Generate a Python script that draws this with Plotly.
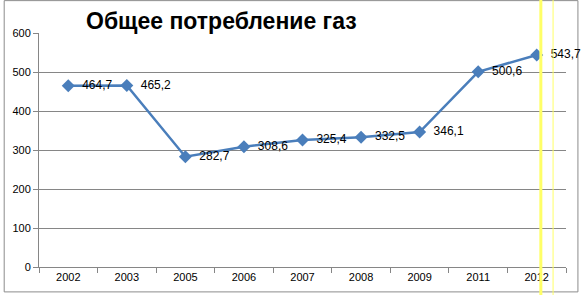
import plotly.graph_objects as go

years = ["2002", "2003", "2005", "2006", "2007", "2008", "2009", "2011", "2012"]
values = [464.7, 465.2, 282.7, 308.6, 325.4, 332.5, 346.1, 500.6, 543.7]
labels = ["464,7", "465,2", "282,7", "308,6", "325,4", "332,5", "346,1", "500,6", "543,7"]
y_ticks = [0, 100, 200, 300, 400, 500, 600]
title = "Общее потребление газ"

fig = go.Figure()
fig.add_trace(go.Scatter(
    x=years, y=values, mode="lines+markers+text",
    text=["  " + t for t in labels], textposition="middle right",
    textfont=dict(family="Liberation Sans", size=12, color="#000000"),
    line=dict(color="#4A7EBB", width=2.5),
    marker=dict(symbol="diamond", size=10, color="#4A7EBB"),
    cliponaxis=False, showlegend=False,
))

fig.update_layout(
    width=581, height=295,
    margin=dict(l=36, r=15, t=33, b=27),
    paper_bgcolor="white", plot_bgcolor="white",
    font=dict(family="Liberation Sans", size=11, color="#000000"),
    xaxis=dict(
        type="category", range=[-0.5, 8.5],
        showline=True, linecolor="#868686", linewidth=1,
        ticks="outside", ticklen=5, tickcolor="#868686",
        tickson="boundaries", showgrid=False,
        tickfont=dict(size=11),
    ),
    yaxis=dict(
        range=[0, 600], tickvals=y_ticks,
        showline=True, linecolor="#868686", linewidth=1,
        ticks="outside", ticklen=5, tickcolor="#868686",
        gridcolor="#868686", gridwidth=1, zeroline=False,
        tickfont=dict(size=11),
    ),
    annotations=[dict(
        text="<b>" + title + "</b>", xref="paper", yref="paper",
        x=(220 - 36) / 530, y=1, yshift=-3, xanchor="center", yanchor="bottom",
        showarrow=False, font=dict(family="Liberation Sans", size=23, color="#000000"),
    )],
    shapes=[
        dict(type="rect", xref="paper", yref="paper",
             x0=-35 / 530, x1=(578 - 36) / 530, y0=-25 / 235, y1=(268 - 0.5) / 235,
             line=dict(color="#8c8c8c", width=1), layer="below"),
        dict(type="line", xref="paper", yref="paper",
             x0=(540.7 - 36) / 530, x1=(540.7 - 36) / 530, y0=-30 / 235, y1=270 / 235,
             line=dict(color="#FFFF66", width=3)),
        dict(type="line", xref="paper", yref="paper",
             x0=(553 - 36) / 530, x1=(553 - 36) / 530, y0=-30 / 235, y1=270 / 235,
             line=dict(color="#FFFF66", width=1)),
    ],
)

fig.write_html("out.html")
